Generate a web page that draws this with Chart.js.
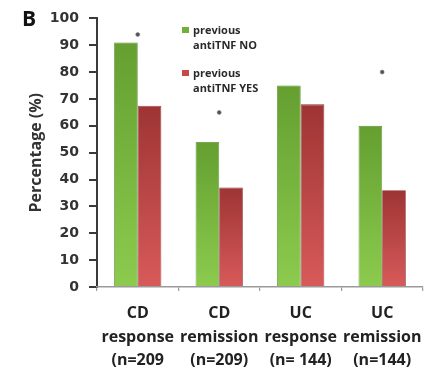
<!DOCTYPE html>
<html>
<head>
<meta charset="utf-8">
<script src="https://cdn.jsdelivr.net/npm/chart.js@4"></script>
<style>
  html, body { margin: 0; padding: 0; background: #fff; }
  #wrap { width: 433px; height: 374px; }
</style>
</head>
<body>
<div id="wrap"><canvas id="c" width="433" height="374"></canvas></div>
<script>
// ---- data ----
const categories = [
  ['CD', 'response', '(n=209'],
  ['CD', 'remission', '(n=209)'],
  ['UC', 'response', '(n= 144)'],
  ['UC', 'remission', '(n=144)']
];
const seriesNames = [['previous', 'antiTNF NO'], ['previous', 'antiTNF YES']];
const antiTnfNo = [91, 54, 75, 60];
const antiTnfYes = [67.5, 37, 68, 36];
const asteriskLevels = [94, 65, null, 80];
const yTicks = [0, 10, 20, 30, 40, 50, 60, 70, 80, 90, 100];
const panelLetter = 'B';
const yTitle = 'Percentage (%)';

const FONT = "'Open Sans', 'DejaVu Sans', sans-serif";
const TICKFONT = "'DejaVu Sans', sans-serif";

function barGradient(top, bottom) {
  return function (context) {
    const chart = context.chart;
    const ys = chart.scales.y;
    if (!ys || !chart.chartArea) return bottom;
    const v = context.raw;
    const y0 = ys.getPixelForValue(v);
    const y1 = ys.getPixelForValue(0);
    const g = chart.ctx.createLinearGradient(0, y0, 0, y1);
    g.addColorStop(0, top);
    g.addColorStop(1, bottom);
    return g;
  };
}

const legendPlugin = {
  id: 'customLegend',
  afterDraw(chart) {
    const c = chart.ctx;
    c.save();
    const items = [
      { color: '#6fb03a', lines: seriesNames[0], y: 28 },
      { color: '#c84848', lines: seriesNames[1], y: 71 }
    ];
    c.font = 'bold 11px ' + FONT;
    c.textBaseline = 'middle';
    c.textAlign = 'left';
    items.forEach(it => {
      c.fillStyle = it.color;
      c.fillRect(182, it.y - 1, 7, 6);
      c.fillStyle = '#2a2a2a';
      c.fillText(it.lines[0], 193, it.y + 3);
      c.fillText(it.lines[1], 193, it.y + 18);
    });
    // panel letter
    c.fillStyle = '#111';
    c.font = 'bold 21px ' + FONT;
    c.textAlign = 'center';
    c.fillText(panelLetter, 29, 20);
    c.restore();
  }
};

new Chart(document.getElementById('c'), {
  type: 'bar',
  data: {
    labels: categories,
    datasets: [
      {
        label: seriesNames[0].join(' '),
        data: antiTnfNo,
        backgroundColor: barGradient('#649f30', '#8ccb4e'),
        borderColor: '#5a8f30',
        borderWidth: 0.8,
        barPercentage: 1.0,
        categoryPercentage: 0.58,
        order: 2
      },
      {
        label: seriesNames[1].join(' '),
        data: antiTnfYes,
        backgroundColor: barGradient('#9e3434', '#d85a5a'),
        borderColor: '#8e3030',
        borderWidth: 0.8,
        barPercentage: 1.0,
        categoryPercentage: 0.58,
        order: 2
      },
      {
        type: 'line',
        label: 'significance',
        data: asteriskLevels,
        showLine: false,
        pointStyle: 'circle',
        pointRadius: 2,
        pointBackgroundColor: '#555',
        pointBorderColor: '#777',
        pointBorderWidth: 0.5,
        order: 1
      }
    ]
  },
  options: {
    responsive: false,
    animation: false,
    layout: { padding: { left: 0, right: 3, top: 14, bottom: 0 } },
    plugins: {
      legend: { display: false },
      tooltip: { enabled: false }
    },
    scales: {
      y: {
        min: 0,
        max: 100,
        afterBuildTicks(scale) { scale.ticks = yTicks.map(v => ({ value: v })); },
        afterFit(scale) { scale.width = 97; },
        border: { display: true, color: '#3a3a3a', width: 2 },
        grid: { drawOnChartArea: false, drawTicks: true, tickLength: 8, color: '#3a3a3a', lineWidth: 2 },
        ticks: {
          padding: 10,
          color: '#333',
          font: { family: TICKFONT, size: 14, weight: 'bold' }
        },
        title: {
          display: true,
          text: yTitle,
          color: '#333',
          padding: { top: 27, bottom: 0 },
          font: { family: FONT, size: 16, weight: 'bold' }
        }
      },
      x: {
        offset: true,
        afterFit(scale) { scale.height = 374 - 287; },
        border: { display: true, color: '#9a9a9a', width: 1.5 },
        grid: { offset: true, drawOnChartArea: false, drawTicks: true, tickLength: 4, color: '#9a9a9a', lineWidth: 1.2 },
        ticks: {
          padding: 11,
          color: '#222',
          maxRotation: 0,
          autoSkip: false,
          font: { family: FONT, size: 16, weight: 'bold', lineHeight: 1.47 }
        }
      }
    }
  },
  plugins: [legendPlugin]
});
</script>
</body>
</html>
